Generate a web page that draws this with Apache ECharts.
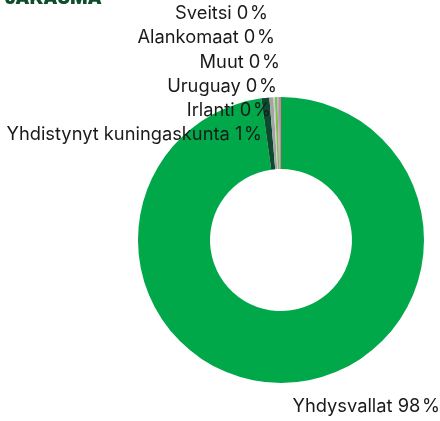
<!DOCTYPE html>
<html>
<head>
<meta charset="utf-8">
<script src="https://cdn.jsdelivr.net/npm/echarts@6/dist/echarts.min.js"></script>
<style>
  html, body { margin: 0; padding: 0; background: #fff; }
  #chart { width: 440px; height: 421px; }
</style>
</head>
<body>
<div id="chart"></div>
<script>
// Country shares of the distribution (percent)
const countries = ['Yhdysvallat', 'Yhdistynyt kuningaskunta', 'Irlanti', 'Uruguay', 'Muut', 'Alankomaat', 'Sveitsi'];
const shares = [97.8, 0.9, 0.45, 0.15, 0.3, 0.15, 0.25];
const sliceColors = ['#00a84a', '#0b4a2e', '#a3a3a3', '#cfcbe0', '#7cc242', '#8fb3dc', '#e27a90'];

const chart = echarts.init(document.getElementById('chart'), null, { renderer: 'canvas' });

// Small slices crowd together at the top; their labels are stacked in a
// column above the ring, bottom row first (clockwise slice order).
const stackRight = [262, 271, 277, 280, 275, 268];
const stackBottom = 135;
const stackRow = 24.3;

chart.setOption({
  animation: false,
  title: {
    text: 'JAKAUMA',
    left: 0,
    top: -15,
    textStyle: { fontFamily: 'Inter', fontSize: 18, fontWeight: 900, color: '#0f4d2c' }
  },
  series: [{
    type: 'pie',
    center: [281, 240],
    radius: [71, 143],
    startAngle: 90,
    clockwise: true,
    avoidLabelOverlap: false,
    itemStyle: { borderWidth: 0 },
    label: {
      show: true,
      position: 'outside',
      fontFamily: 'Inter',
      fontSize: 18.3,
      color: '#1a1a1a',
      overflow: 'none',
      distanceToLabelLine: 0,
      formatter: p => p.name + ' ' + Math.round(p.value) + '\u200a%'
    },
    labelLine: { show: false, length: 24, length2: 0 },
    labelLayout: function (params) {
      if (params.dataIndex === 0) {
        return {};
      }
      const k = params.dataIndex - 1;
      return {
        x: stackRight[k],
        y: stackBottom - k * stackRow,
        align: 'right',
        verticalAlign: 'middle'
      };
    },
    data: countries.map((name, i) => ({
      name: name,
      value: shares[i],
      itemStyle: { color: sliceColors[i] }
    }))
  }]
});
</script>
</body>
</html>
